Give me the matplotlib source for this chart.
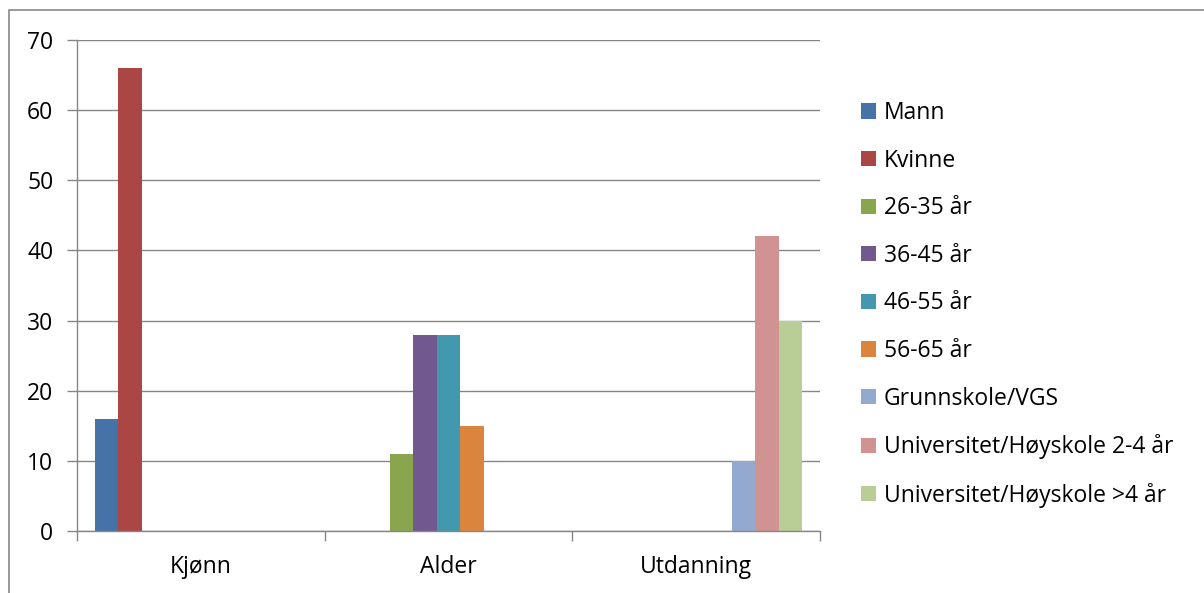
import numpy as np
import matplotlib.pyplot as plt
from matplotlib.patches import Patch, Rectangle

# data
categories = ['Kjønn', 'Alder', 'Utdanning']
series_names = ['Mann', 'Kvinne', '26-35 år', '36-45 år', '46-55 år', '56-65 år',
                'Grunnskole/VGS', 'Universitet/Høyskole 2-4 år', 'Universitet/Høyskole >4 år']
mann = [16, 0, 0]
kvinne = [66, 0, 0]
alder_26_35 = [0, 11, 0]
alder_36_45 = [0, 28, 0]
alder_46_55 = [0, 28, 0]
alder_56_65 = [0, 15, 0]
grunnskole = [0, 0, 10]
uni_2_4 = [0, 0, 42]
uni_4 = [0, 0, 30]
series_values = [mann, kvinne, alder_26_35, alder_36_45, alder_46_55, alder_56_65,
                 grunnskole, uni_2_4, uni_4]
colors = ['#4572A7', '#AA4643', '#89A54E', '#71588F', '#4198AF', '#DB843D',
          '#93A9CF', '#D19392', '#B9CD96']
yticks = [0, 10, 20, 30, 40, 50, 60, 70]

plt.rcParams['font.family'] = ['Open Sans', 'DejaVu Sans']
fs = 16.5

fig = plt.figure(figsize=(12.04, 5.93), dpi=100)
ax = fig.add_axes([77 / 1204, 62 / 593, 743 / 1204, 491 / 593])

grid_c = '#868686'
n = len(series_names)
w = 1 / (n + 1.5)  # gap width 150%
x = np.arange(len(categories))
for i, (vals, c) in enumerate(zip(series_values, colors)):
    ax.bar(x + (i - (n - 1) / 2) * w, vals, width=w, color=c, linewidth=0)

ax.set_xlim(-0.5, len(categories) - 0.5)
ax.set_ylim(0, 70)
ax.set_yticks(yticks)
ax.yaxis.grid(True, color=grid_c, linewidth=1)
ax.set_axisbelow(True)

ax.set_xticks(np.arange(-0.5, len(categories)))
ax.set_xticklabels([])
ax.set_xticks(x, minor=True)
ax.set_xticklabels(categories, minor=True)
ax.tick_params(axis='x', which='major', direction='out', length=7, color=grid_c, width=1)
ax.tick_params(axis='x', which='minor', length=0, pad=17, labelsize=fs)
ax.tick_params(axis='y', direction='out', length=7, color=grid_c, width=1, pad=10, labelsize=fs)

for s in ['top', 'right']:
    ax.spines[s].set_visible(False)
for s in ['left', 'bottom']:
    ax.spines[s].set_color(grid_c)
    ax.spines[s].set_linewidth(1)

handles = [Patch(facecolor=c, edgecolor='none') for c in colors]
fig.legend(handles, series_names, loc='upper left', bbox_to_anchor=(861 / 1204, 1 - 101 / 593),
           frameon=False, fontsize=fs, handlelength=0.65, handleheight=0.65,
           handletextpad=0.35, labelspacing=1.03, borderpad=0, borderaxespad=0)

# outer chart border
fig.patches.append(Rectangle((9 / 1204, -0.1), 1.2, 1 - 10 / 593 + 0.1, transform=fig.transFigure,
                             fill=False, edgecolor='#898989', linewidth=1.2))

fig.savefig('out.png', dpi=100)
